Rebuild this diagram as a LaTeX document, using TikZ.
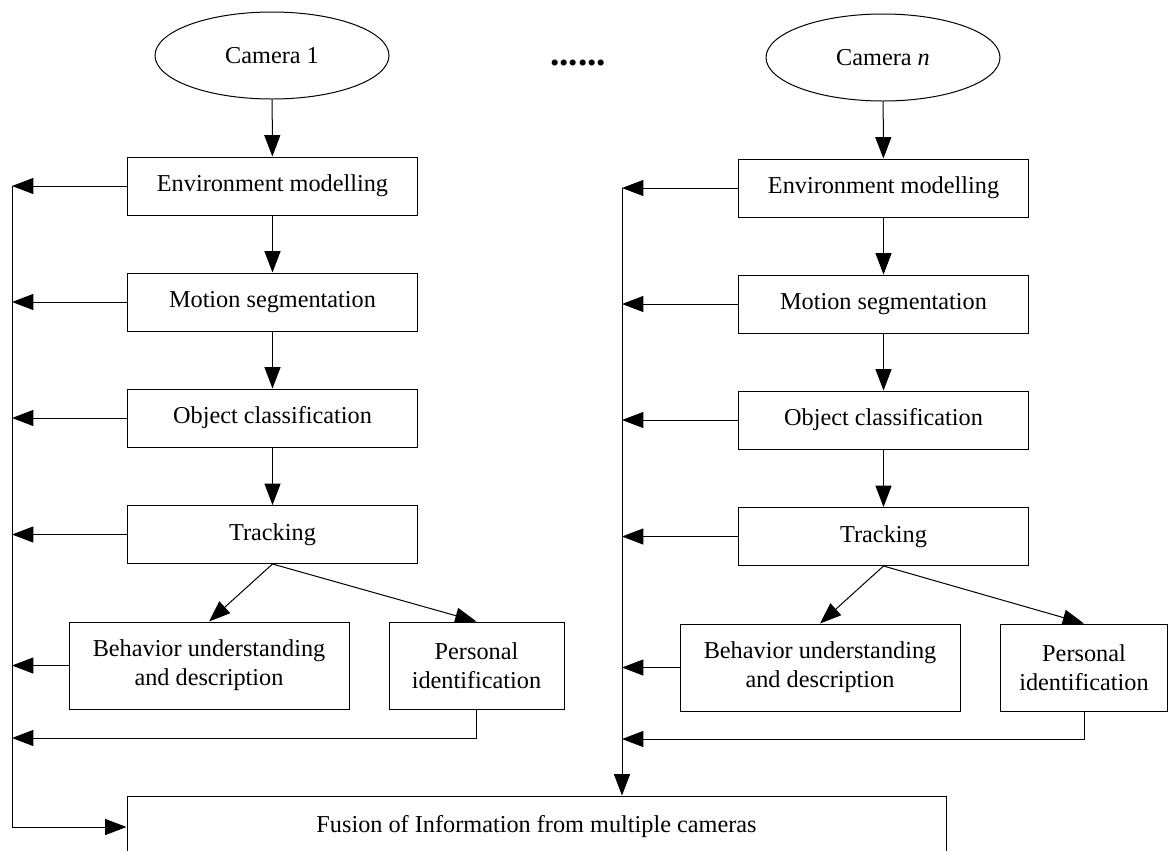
\documentclass[tikz,border=0pt]{standalone}
\usepackage{fontspec}
\setmainfont{Liberation Serif}
\usepackage{tikz}
\usetikzlibrary{shapes.geometric,arrows.meta}
\pgfdeclarelayer{edgelayer}
\pgfdeclarelayer{nodelayer}
\pgfsetlayers{edgelayer,nodelayer,main}
\tikzstyle{edge}=[draw=black, line width=0.75pt]
\tikzstyle{arrow}=[draw=black, line width=0.75pt, -{Triangle[length=16pt,width=12pt]}]
\tikzstyle{stage}=[rectangle, fill=white, draw=black, line width=0.75pt, inner sep=0pt, align=center, font=\fontsize{18.2}{21.8}\selectfont, minimum width=217.5pt, minimum height=43.5pt]
\tikzstyle{camera}=[ellipse, fill=white, draw=black, line width=0.75pt, inner sep=0pt, font=\fontsize{18.2}{21.8}\selectfont, minimum width=175.5pt, minimum height=65.25pt]
\tikzstyle{result}=[stage, minimum height=65.25pt]

\begin{document}
\begin{tikzpicture}[x=0.75pt, y=-0.75pt]
			\useasboundingbox (0, 0) rectangle (1169, 850);
			\begin{pgfonlayer}{nodelayer}
				\node [style=camera] (0) at (272, 55.5) {Camera 1};
				\node [style=stage] (1) at (272.5, 186) {Environment modelling};
				\node [style=stage] (2) at (272.5, 302) {Motion segmentation};
				\node [style=stage] (3) at (272.5, 418) {Object classification};
				\node [style=stage] (4) at (272.5, 534.5) {Tracking};
				\node [style=result, minimum width=210pt] (5) at (209, 665.5) {Behavior understanding\\and description};
				\node [style=result, minimum width=131.25pt] (6) at (476.5, 665.5) {Personal\\identification};
				\node [style=camera] (7) at (883, 57.5) {Camera \textit{n}};
				\node [style=stage] (8) at (883.5, 188) {Environment modelling};
				\node [style=stage] (9) at (883.5, 304) {Motion segmentation};
				\node [style=stage] (10) at (883.5, 420) {Object classification};
				\node [style=stage] (11) at (883.5, 536.5) {Tracking};
				\node [style=result, minimum width=210pt] (12) at (820, 667.5) {Behavior understanding\\and description};
				\node [style=result, minimum width=125.25pt] (13) at (1084, 667.5) {Personal\\identification};
				\node [style=stage, minimum width=614.25pt, minimum height=46.5pt] (14) at (536.5, 827) {Fusion of Information from multiple cameras};
				\node [inner sep=0pt, font=\fontsize{28}{30}\selectfont\bfseries] (15) at (578, 63) {......};
				\coordinate (16) at (12, 186);
				\coordinate (17) at (12, 738);
				\coordinate (18) at (622, 188);
				\coordinate (19) at (622, 739);
			\end{pgfonlayer}
			\begin{pgfonlayer}{edgelayer}
				\draw [style=arrow] (0) to (1);
				\draw [style=arrow] (1) to (2);
				\draw [style=arrow] (2) to (3);
				\draw [style=arrow] (3) to (4);
				\draw [style=arrow] (4.south) to (5.north);
				\draw [style=arrow] (4.south) to (6.north);
				\draw [style=arrow] (1) -- (1 -| 16);
				\draw [style=arrow] (2) -- (2 -| 16);
				\draw [style=arrow] (3) -- (3 -| 16);
				\draw [style=arrow] (4) -- (4 -| 16);
				\draw [style=arrow] (5) -- (5 -| 16);
				\draw [style=arrow] (6.south) |- (17);
				\draw [style=arrow] (16) |- (14.west);
				\draw [style=arrow] (7) to (8);
				\draw [style=arrow] (8) to (9);
				\draw [style=arrow] (9) to (10);
				\draw [style=arrow] (10) to (11);
				\draw [style=arrow] (11.south) to (12.north);
				\draw [style=arrow] (11.south) to (13.north);
				\draw [style=arrow] (8) -- (8 -| 18);
				\draw [style=arrow] (9) -- (9 -| 18);
				\draw [style=arrow] (10) -- (10 -| 18);
				\draw [style=arrow] (11) -- (11 -| 18);
				\draw [style=arrow] (12) -- (12 -| 18);
				\draw [style=arrow] (13.south) |- (19);
				\draw [style=arrow] (18) -- (18 |- 14.north);
			\end{pgfonlayer}
		\end{tikzpicture}
\end{document}
